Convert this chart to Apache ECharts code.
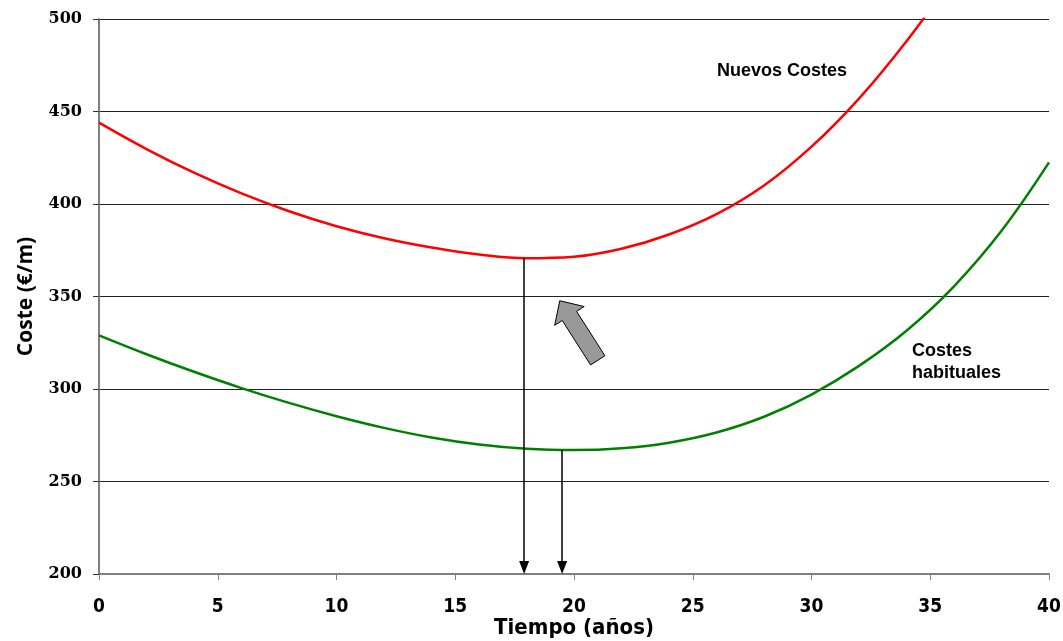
<!DOCTYPE html>
<html>
<head>
<meta charset="utf-8">
<script src="https://cdn.jsdelivr.net/npm/echarts@6/dist/echarts.min.js"></script>
<style>
  html, body { margin: 0; padding: 0; background: #ffffff; }
  #chart { width: 1063px; height: 641px; }
</style>
</head>
<body>
<div id="chart"></div>
<script>
// Cost per metre (€/m) against service life (years)
const years = [0, 2, 4, 6, 8, 10, 12, 14, 16, 18, 20, 22, 24, 26, 28, 30, 32, 34, 36, 38, 40];
const nuevosCostes = [444, 429.7, 416.9, 405.7, 396.1, 388, 381.5, 376.5, 372.7, 370.7, 371.5, 375.8, 383.5, 394.5, 410, 431, 457, 488, 523];
const costesHabituales = [329, 318.8, 309.3, 300.5, 292.5, 285.3, 279, 273.8, 270, 267.7, 267, 268, 271, 276.5, 285, 297, 312.5, 331.5, 355.5, 385.5, 422.5];

// Optimum replacement age and its cost for each curve
const optimumYears = [17.9, 19.5];
const optimumCosts = [370.6, 267.2];

// Axis ticks
const xTicks = { min: 0, max: 40, step: 5 };
const yTicks = { min: 200, max: 500, step: 50 };

// Shift indicator: from tail to tip, in axis units
const shiftArrow = { tail: [21.0, 315.5], tip: [19.4, 347.7] };

const pairs = (xs, ys) => ys.map((y, i) => [xs[i], y]);

const chart = echarts.init(document.getElementById('chart'), null, { renderer: 'canvas' });

const arrowLine = { color: '#000000', width: 1.5, type: 'solid' };
const arrowHead = [10, 13];
const narrowBold = "'Liberation Sans Narrow', 'DejaVu Sans Condensed', sans-serif";

// Vertical drop line from a curve's optimum down to the time axis.
// The head is centred on the end point, so the end is lifted by half its length.
function optimumMarker(i, headLift) {
  return {
    silent: true,
    symbol: ['none', 'triangle'],
    symbolSize: arrowHead,
    label: { show: false },
    emphasis: { disabled: true },
    lineStyle: arrowLine,
    data: [[
      { coord: [optimumYears[i], optimumCosts[i]] },
      { coord: [optimumYears[i], yTicks.min + headLift] }
    ]]
  };
}

function buildOption(headLift) {
  return {
    animation: false,
    backgroundColor: '#ffffff',
    grid: { left: 99, right: 14, top: 19, bottom: 67, containLabel: false, outerBoundsMode: 'none' },
    xAxis: {
      type: 'value',
      min: xTicks.min, max: xTicks.max, interval: xTicks.step,
      name: 'Tiempo (años)',
      nameLocation: 'middle',
      nameGap: 43,
      nameMoveOverlap: false,
      nameTextStyle: { fontFamily: narrowBold, fontWeight: 'bold', fontSize: 22, color: '#000', verticalAlign: 'top' },
      axisLine: { show: true, onZero: false, lineStyle: { color: '#808080', width: 2 } },
      axisTick: { show: true, inside: false, length: 6, lineStyle: { color: '#808080', width: 1 } },
      axisLabel: { margin: 24, fontFamily: narrowBold, fontWeight: 'bold', fontSize: 19, color: '#000' },
      splitLine: { show: false }
    },
    yAxis: {
      type: 'value',
      min: yTicks.min, max: yTicks.max, interval: yTicks.step,
      name: 'Coste (€/m)',
      nameLocation: 'middle',
      nameRotate: 90,
      nameGap: 62,
      nameMoveOverlap: false,
      nameTextStyle: { fontFamily: "'Open Sans', 'Noto Sans', sans-serif", fontWeight: 'bold', fontSize: 21, color: '#000' },
      axisLine: { show: true, lineStyle: { color: '#808080', width: 2 } },
      axisTick: { show: true, inside: false, length: 6, lineStyle: { color: '#333', width: 1 } },
      axisLabel: {
        margin: 17, padding: [3, 0, 0, 0], verticalAlign: 'middle',
        fontFamily: "'DejaVu Serif', 'Liberation Serif', serif", fontWeight: 'bold', fontSize: 16, color: '#000'
      },
      splitLine: { show: true, lineStyle: { color: '#222', width: 1 } }
    },
    series: [
      {
        name: 'Nuevos Costes',
        type: 'line',
        data: pairs(years, nuevosCostes),
        smooth: 0.4,
        clip: true,
        showSymbol: false,
        silent: true,
        lineStyle: { color: '#ff0000', width: 2.5 },
        markLine: optimumMarker(0, headLift)
      },
      {
        name: 'Costes habituales',
        type: 'line',
        data: pairs(years, costesHabituales),
        smooth: 0.4,
        clip: true,
        showSymbol: false,
        silent: true,
        lineStyle: { color: '#008000', width: 2.5 },
        markLine: optimumMarker(1, headLift)
      }
    ]
  };
}

chart.setOption(buildOption(0));
// value span of half an arrow head, so its tip lands on the axis
const unitsPerPx = (yTicks.max - yTicks.min) /
  (chart.convertToPixel({ gridIndex: 0 }, [0, yTicks.min])[1] - chart.convertToPixel({ gridIndex: 0 }, [0, yTicks.max])[1]);
chart.setOption(buildOption(arrowHead[1] / 2 * unitsPerPx));

// Block arrow showing the cost increase, plus the curve captions
function blockArrow(tipData, tailData) {
  const T = chart.convertToPixel({ gridIndex: 0 }, tipData);
  const B = chart.convertToPixel({ gridIndex: 0 }, tailData);
  const dx = T[0] - B[0], dy = T[1] - B[1];
  const len = Math.hypot(dx, dy);
  const u = [dx / len, dy / len];
  const n = [-u[1], u[0]];
  const headLen = 18, headHalf = 17.5, shaftHalf = 8.5;
  const H = [T[0] - u[0] * headLen, T[1] - u[1] * headLen];
  const p = (base, k) => [base[0] + n[0] * k, base[1] + n[1] * k];
  return [T, p(H, headHalf), p(H, shaftHalf), p(B, shaftHalf), p(B, -shaftHalf), p(H, -shaftHalf), p(H, -headHalf)];
}

const captionFont = { fontFamily: "'Liberation Sans', Arial, sans-serif", fontWeight: 'bold', fontSize: 18, fill: '#000' };

chart.setOption({
  graphic: [
    {
      type: 'polygon',
      shape: { points: blockArrow(shiftArrow.tip, shiftArrow.tail) },
      style: { fill: '#999999', stroke: '#000000', lineWidth: 1 },
      silent: true,
      z: 10
    },
    {
      type: 'text',
      left: 717, top: 62,
      style: Object.assign({ text: 'Nuevos Costes' }, captionFont),
      silent: true
    },
    {
      type: 'text',
      left: 912, top: 340,
      style: Object.assign({ text: 'Costes\nhabituales', lineHeight: 22 }, captionFont),
      silent: true
    }
  ]
});
</script>
</body>
</html>
